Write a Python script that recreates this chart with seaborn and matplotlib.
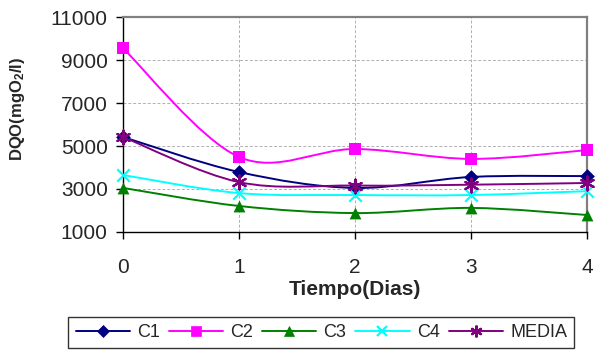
import numpy as np
import pandas as pd
import matplotlib
matplotlib.use("Agg")
import matplotlib.pyplot as plt
import seaborn as sns
from matplotlib.path import Path
from matplotlib.patches import PathPatch
from matplotlib.lines import Line2D

# Chemical oxygen demand per column over time
dias = [0, 1, 2, 3, 4]
c1 = [5420, 3790, 3050, 3560, 3600]
c2 = [9550, 4490, 4860, 4400, 4810]
c3 = [3050, 2210, 1880, 2120, 1790]
c4 = [3650, 2810, 2720, 2720, 2900]
media = [5420, 3320, 3160, 3200, 3280]

series_names = ["C1", "C2", "C3", "C4", "MEDIA"]
series_values = [c1, c2, c3, c4, media]
colors = ["#000080", "#FF00FF", "#008000", "#00FFFF", "#800080"]
markers = ["D", "s", "^", "x", (6, 2, 0)]
msizes = [7.5, 8.5, 8.5, 9, 10]

y_ticks = [1000, 3000, 5000, 7000, 9000, 11000]
x_ticks = [0, 1, 2, 3, 4]

sns.set_style("white")
plt.rcParams["font.family"] = ["Liberation Sans", "DejaVu Sans"]
plt.rcParams["mathtext.default"] = "regular"

df = pd.DataFrame({
    "dia": dias * len(series_names),
    "dqo": sum(series_values, []),
    "serie": sum([[n] * len(dias) for n in series_names], []),
})

fig = plt.figure(figsize=(5.95, 3.53), dpi=100)
ax = fig.add_axes([0.2067, 0.3428, 0.78, 0.609])


def smooth_path(xs, ys):
    """Cubic Bezier path through the points (Catmull-Rom style smoothing)."""
    pts = np.column_stack([xs, ys]).astype(float)
    n = len(pts)
    verts = [pts[0]]
    codes = [Path.MOVETO]
    for i in range(n - 1):
        p0 = pts[max(i - 1, 0)]
        p1 = pts[i]
        p2 = pts[i + 1]
        p3 = pts[min(i + 2, n - 1)]
        verts += [p1 + (p2 - p0) / 6.0, p2 - (p3 - p1) / 6.0, p2]
        codes += [Path.CURVE4] * 3
    return Path(verts, codes)


def is_stroke_marker(m):
    return m == "x" or isinstance(m, tuple)


for name, col in zip(series_names, colors):
    sub = df[df["serie"] == name]
    ax.add_patch(PathPatch(smooth_path(sub["dia"], sub["dqo"]),
                           facecolor="none", edgecolor=col, lw=1.4, zorder=3))

for name, col, mk, ms in zip(series_names, colors, markers, msizes):
    sub = df[df["serie"] == name]
    sns.scatterplot(data=sub, x="dia", y="dqo", ax=ax, color=col, marker=mk,
                    s=ms ** 2, edgecolor=col,
                    linewidth=1.6 if is_stroke_marker(mk) else 0,
                    zorder=4, legend=False, clip_on=False)

ax.set_xlim(0, 4)
ax.set_ylim(1000, 11000)
ax.set_xticks(x_ticks)
ax.set_yticks(y_ticks)
ax.set_xticklabels([str(t) for t in x_ticks])
ax.set_yticklabels([str(t) for t in y_ticks])

ax.grid(True, color="#b0b0b0", linestyle=(0, (3, 2)), linewidth=0.7)
ax.set_axisbelow(True)

for side in ("top", "right"):
    ax.spines[side].set_color("#808080")
    ax.spines[side].set_linewidth(1.6)
for side in ("left", "bottom"):
    ax.spines[side].set_color("black")
    ax.spines[side].set_linewidth(1.0)

ax.tick_params(axis="both", which="both", direction="out", length=5,
               width=1, color="black", labelsize=15, left=True, bottom=True)
ax.tick_params(axis="x", pad=14)
ax.tick_params(axis="y", pad=6)

ax.set_xlabel("Tiempo(Dias)", fontsize=15, fontweight="bold")
ax.xaxis.set_label_coords(0.5, -0.225)
ax.set_ylabel(r"DQO(mgO$_2$/l)", fontsize=12, fontweight="bold")
ax.yaxis.set_label_coords(-0.207, 0.575)

handles = [Line2D([0], [0], color=c, marker=m, markersize=s * 0.85, lw=1.4,
                  markeredgewidth=1.6 if is_stroke_marker(m) else 0.5,
                  markeredgecolor=c, markerfacecolor=c)
           for c, m, s in zip(colors, markers, msizes)]
leg = fig.legend(handles, series_names, loc="center", ncol=5,
                 bbox_to_anchor=(0.54, 0.058), fontsize=13, frameon=True,
                 fancybox=False, edgecolor="black", handlelength=3.0,
                 handletextpad=0.4, columnspacing=0.5, borderpad=0.4,
                 borderaxespad=0.2)
leg.get_frame().set_linewidth(1.0)

fig.savefig("out.png", dpi=100)
